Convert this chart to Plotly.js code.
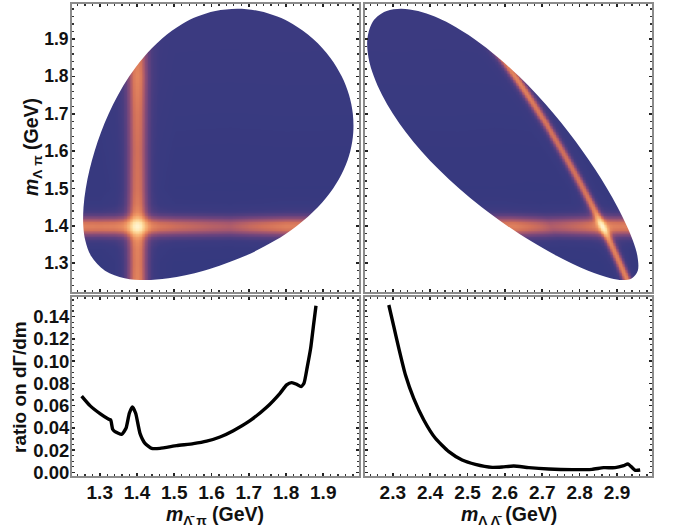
<!DOCTYPE html>
<html><head><meta charset="utf-8">
<script src="https://cdn.plot.ly/plotly-3.0.1.min.js"></script>
<style>html,body{margin:0;padding:0;background:#fff}</style></head>
<body><div id="plot" style="width:678px;height:531px"></div>
<script>
// Ratio curves
const ratioX1=[1.2514,1.2738,1.3007,1.3230,1.3293,1.3347,1.3409,1.3588,1.3705,1.3794,1.3875,1.3964,1.408,1.4215,1.4394,1.4617,1.5065,1.5512,1.587,1.6228,1.6586,1.7034,1.748,1.7839,1.8018,1.8152,1.8286,1.8403,1.8483,1.8573,1.8662,1.8734,1.8805];
const ratioY1=[.0686,.0600,.0528,.0480,.0471,.0387,.0366,.0342,.0396,.0531,.0588,.0531,.0351,.0261,.0216,.0216,.0240,.0258,.0280,.0318,.0375,.0465,.0585,.0711,.0786,.0807,.0792,.0771,.0801,.0951,.1115,.1310,.1499];
const ratioX2=[2.2894,2.3028,2.3162,2.334,2.356,2.383,2.414,2.450,2.4855,2.521,2.566,2.5925,2.6236,2.6638,2.717,2.7796,2.833,2.864,2.895,2.9178,2.929,2.938,2.949,2.962];
const ratioY2=[.1505,.1310,.1115,.0875,.0665,.0471,.0306,.0186,.0111,.0072,.0045,.0048,.0057,.0042,.0030,.0024,.0027,.0042,.0042,.0060,.0075,.0051,.0018,.0021];
// Dalitz boundary of the upper-left panel (clockwise on screen)
const edgeX=[1.6688,1.7275,1.7768,1.8179,1.8730,1.9188,1.9495,1.9693,1.9794,1.9806,1.9726,1.9549,1.9265,1.8854,1.8289,1.7692,1.6910,1.5792,1.4842,1.4203,1.3669,1.3141,1.2763,1.2614,1.2558,1.2564,1.2625,1.2726,1.2862,1.3032,1.3240,1.3491,1.3792,1.4169,1.4660,1.5213,1.5618,1.6103,1.6688];
const edgeY=[1.9812,1.975,1.96,1.94,1.90,1.85,1.80,1.75,1.70,1.65,1.60,1.55,1.50,1.45,1.40,1.36,1.32,1.28,1.26,1.2553,1.26,1.28,1.32,1.36,1.40,1.45,1.50,1.55,1.60,1.65,1.70,1.75,1.80,1.85,1.90,1.94,1.96,1.975,1.9812];
// Resonance band: cross-section by distance from the centre, and strength along each band
const bandCentre=1.4;
const bandOffset=[0,.005,.01,.015,.02,.03,.04,.06,.1,2];
const bandProfile=[1,.96,.88,.72,.52,.25,.1,.03,.006,0];
const verticalAt=[1.2,1.25,1.3,1.4,1.5,1.6,1.7,1.8,1.85,2.0];
const verticalStrength=[.5,.5,.48,.48,.43,.41,.43,.48,.44,.38];
const horizontalAt=[1.2,1.25,1.3,1.4,1.5,1.6,1.65,1.7,1.8,1.9,2.0];
const horizontalStrength=[.48,.48,.47,.47,.41,.35,.33,.39,.48,.48,.48];
const tintAt=[1.2,1.35,1.6,1.9,2.0];
const tintValue=[.0,.0,.012,.03,.03];
// J/psi -> Lambda Lambdabar pi: sum of the squared invariant masses
const massSum=12.10;
const ticksTop1=[1.3,1.4,1.5,1.6,1.7,1.8,1.9];
const ticksTop2=[2.3,2.4,2.5,2.6,2.7,2.8,2.9];
const ticksRatio=[0,.02,.04,.06,.08,.10,.12,.14];
const ratioLabels=['0.00','0.02','0.04','0.06','0.08','0.10','0.12','0.14'];

function look(xs,ys,v){
  if(v<=xs[0])return ys[0];
  for(let i=1;i<xs.length;i++){ if(v<=xs[i]){const t=(v-xs[i-1])/(xs[i]-xs[i-1]);return ys[i-1]+t*(ys[i]-ys[i-1]);} }
  return ys[ys.length-1];
}
function field(m1,m2){
  return look(tintAt,tintValue,m2)
    +look(bandOffset,bandProfile,Math.abs(m1-bandCentre))*look(verticalAt,verticalStrength,m2)
    +look(bandOffset,bandProfile,Math.abs(m2-bandCentre))*look(horizontalAt,horizontalStrength,m1);
}
function axisGrid(a,b,st){const o=[];for(let v=a;v<=b+1e-9;v+=st)o.push(+v.toFixed(4));return o;}
const gx1=axisGrid(1.21,2.01,.004), gx2=axisGrid(2.21,3.01,.004), gy=axisGrid(1.21,2.01,.004);
const z1=gy.map(y=>gx1.map(x=>field(x,y)));
const z2=gy.map(y=>gx2.map(x=>field(Math.sqrt(Math.max(0,massSum-x*x-y*y)),y)));
const cs=[[0,'#34397f'],[.04,'#3c3a80'],[.16,'#6a437e'],[.3,'#a3566f'],[.42,'#d1705a'],[.54,'#ec9060'],[.68,'#f8b878'],[.84,'#ffe2a6'],[1,'#fffde6']];
const hm=(x,z,xa,ya)=>({type:'heatmap',x:x,y:gy,z:z,xaxis:xa,yaxis:ya,zmin:0,zmax:1,zsmooth:'best',colorscale:cs,showscale:false,hoverinfo:'skip'});
// White mask outside the kinematic boundary: far box (clipped by the axes) + boundary hole
function mask(ex,ey,cw,xa,ya){
  const bx=cw?[-20,-20,20,20,-20]:[-20,20,20,-20,-20];
  const by=cw?[-20,20,20,-20,-20]:[-20,-20,20,20,-20];
  return {type:'scatter',mode:'lines',x:[...bx,null,...ex],y:[...by,null,...ey],xaxis:xa,yaxis:ya,fill:'toself',fillcolor:'#fff',line:{width:0,shape:'spline',smoothing:1},hoverinfo:'skip',showlegend:false};
}
const edge2X=edgeX.map((x,i)=>Math.sqrt(massSum-x*x-edgeY[i]*edgeY[i]));
const line=(x,y,xa,ya)=>({type:'scatter',mode:'lines',x:x,y:y,xaxis:xa,yaxis:ya,line:{color:'#000',width:3.4,shape:'spline',smoothing:.5},hoverinfo:'skip',showlegend:false});
const data=[hm(gx1,z1,'x','y'),mask(edgeX,edgeY,false,'x','y'),hm(gx2,z2,'x2','y2'),mask(edge2X,edgeY,true,'x2','y2'),
  line(ratioX1,ratioY1,'x3','y3'),line(ratioX2,ratioY2,'x4','y4')];
const W=678,H=531;
const dx=(a,b)=>[a/W,b/W], dy=(t,b)=>[1-b/H,1-t/H];
const F='"Liberation Sans",Arial,sans-serif';
function ax(o){return Object.assign({showgrid:false,zeroline:false,showline:true,linecolor:'#8c8c8c',linewidth:2,mirror:'ticks',ticks:'inside',ticklen:3,tickwidth:1.6,tickcolor:'#222',
  automargin:false,fixedrange:true,ticklabelstandoff:-2,tickfont:{family:F,size:17.5,color:'#111',weight:700}},o);}
const mn=(d)=>({dtick:d,ticks:'inside',ticklen:2,tickwidth:1.3,tickcolor:'#333',showgrid:false});
const tf19={family:F,size:19,color:'#111',weight:700};
const title=(text,px,py,ang,size)=>({text:text,xref:'paper',yref:'paper',x:px/W,y:1-py/H,xanchor:'center',yanchor:'middle',showarrow:false,textangle:ang,font:{family:F,size:size||19,color:'#111'}});
const layout={width:W,height:H,margin:{l:0,r:0,t:0,b:0},paper_bgcolor:'#fff',plot_bgcolor:'#fff',showlegend:false,
  xaxis:ax({domain:dx(72,359),range:[1.2255,1.996],tickvals:ticksTop1,showticklabels:false,minor:mn(.02),anchor:'y'}),
  yaxis:ax({domain:dy(4,292),range:[1.2232,1.9936],tickvals:ticksTop1,tickformat:'.1f',minor:mn(.02),anchor:'x'}),
  xaxis2:ax({domain:dx(365,652),range:[2.2257,2.9936],tickvals:ticksTop2,showticklabels:false,minor:mn(.02),anchor:'y2'}),
  yaxis2:ax({domain:dy(4,292),range:[1.2232,1.9936],tickvals:ticksTop1,showticklabels:false,minor:mn(.02),anchor:'x2'}),
  xaxis3:ax({domain:dx(72,359),range:[1.2255,1.996],tickvals:ticksTop1,tickformat:'.1f',minor:mn(.02),anchor:'y3',tickfont:tf19}),
  yaxis3:ax({domain:dy(297,476),range:[-.0033,.1577],tickvals:ticksRatio,ticktext:ratioLabels,minor:mn(.005),anchor:'x3',ticklabelstandoff:-3,tickfont:Object.assign({},tf19,{size:18.5})}),
  xaxis4:ax({domain:dx(365,652),range:[2.2257,2.9936],tickvals:ticksTop2,tickformat:'.1f',minor:mn(.02),anchor:'y4',tickfont:tf19}),
  yaxis4:ax({domain:dy(297,476),range:[-.0033,.1577],tickvals:ticksRatio,showticklabels:false,minor:mn(.005),anchor:'x4'}),
  annotations:[
    title('<b><i>m</i><sub>Λ π</sub> (GeV)</b>',32,147,-90,19.5),
    title('<b>ratio on dΓ/dm</b>',20,387,-90),
    title('<b><i>m</i><sub>Λ̄ π</sub> (GeV)</b>',215,515,0,19.5),
    title('<b><i>m</i><sub>Λ Λ̄</sub> (GeV)</b>',509,515,0,19.5)
  ]
};
Plotly.newPlot('plot',data,layout,{displayModeBar:false,staticPlot:true});
</script></body></html>
